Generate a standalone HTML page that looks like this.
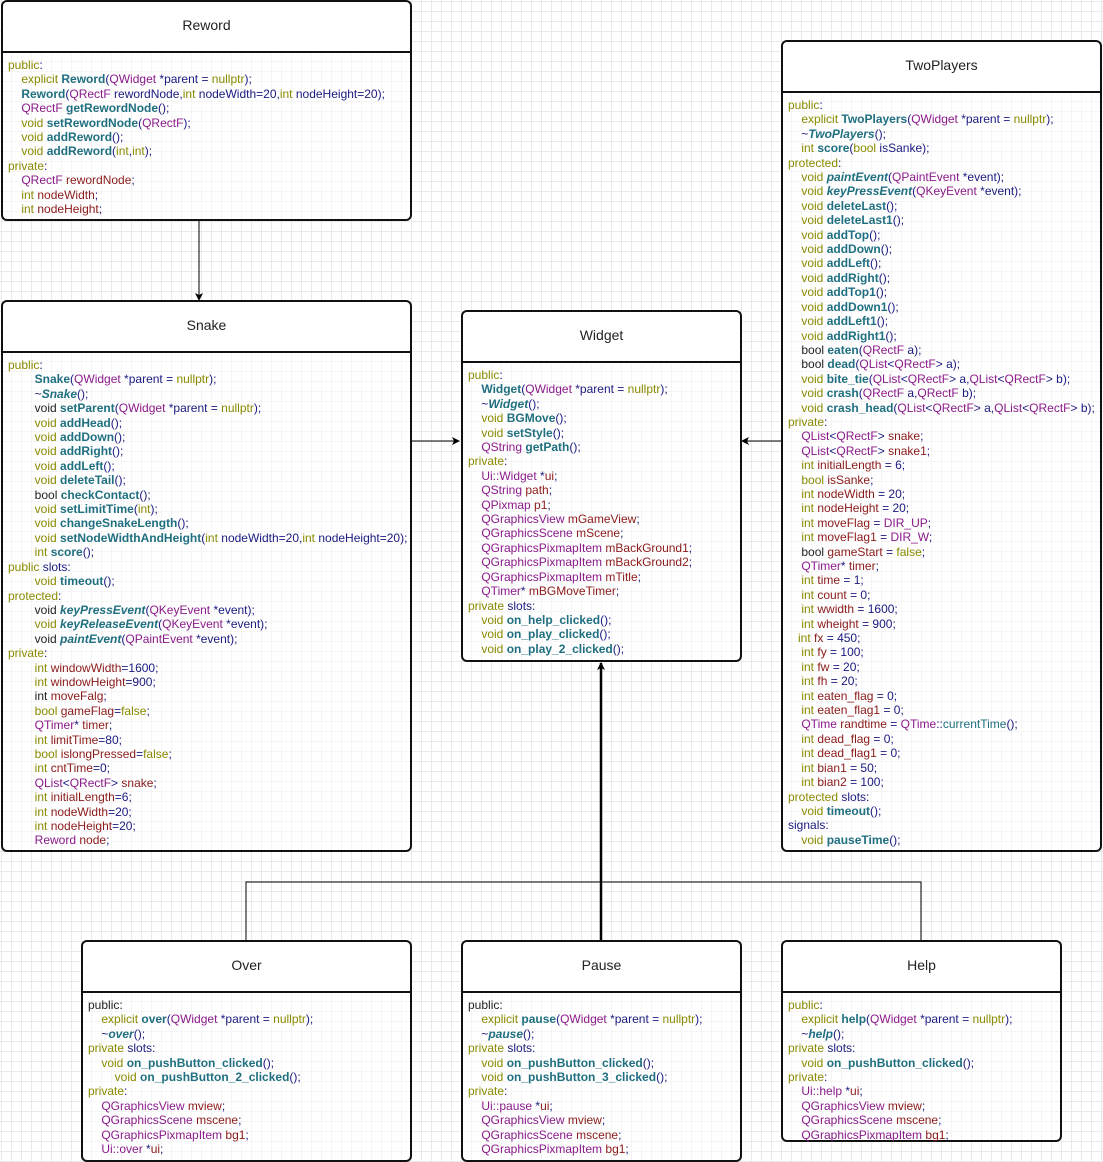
<!DOCTYPE html>
<html><head><meta charset="utf-8"><style>
body{margin:0;width:1103px;height:1162px;position:relative;overflow:hidden;background-color:#fff;
background-image:linear-gradient(#e9e9e9 1px,transparent 1px),linear-gradient(90deg,#e9e9e9 1px,transparent 1px);
background-size:10px 10px;background-position:1px 1px;font-family:"Liberation Sans",Arial,sans-serif;}
.box{position:absolute;border:2px solid #111;border-radius:6px;background:rgba(255,255,255,0.55);box-sizing:border-box;}
.hd{height:49px;border-bottom:2px solid #111;text-align:center;line-height:47px;font-size:14px;color:#222;background:#fff;border-radius:5px 5px 0 0;}
.bd{padding:5px 0 0 5px;font-size:12px;line-height:14.4px;white-space:pre;color:#1a1a80;}
.k{color:#8a8a00}.f{color:#1f6f80;font-weight:bold}.i{font-style:italic}.t{color:#8b1a8b}.v{color:#8b1a1a}.n{color:#1a1a80}.b{color:#222}
svg{position:absolute;left:0;top:0}
</style></head><body>
<svg width="1103" height="1162">
<defs><marker id="a" markerWidth="8" markerHeight="8" refX="7" refY="4" orient="auto" markerUnits="userSpaceOnUse"><path d="M0,0 L8,4 L0,8 L2,4z" fill="#000"/></marker></defs>
<line x1="199" y1="220" x2="199" y2="300" stroke="#000" marker-end="url(#a)"/>
<line x1="411" y1="441" x2="459" y2="441" stroke="#000" marker-end="url(#a)"/>
<line x1="781" y1="441" x2="742" y2="441" stroke="#000" marker-end="url(#a)"/>
<polyline points="246,941 246,882 921,882 921,941" fill="none" stroke="#000"/>
<line x1="601" y1="941" x2="601" y2="663" stroke="#000" stroke-width="2.5" marker-end="url(#a)"/>
</svg>

<div class="box" style="left:1px;top:0px;width:411px;height:221px"><div class="hd">Reword</div><div class="bd"><span class="k">public</span>:
    <span class="k">explicit</span> <span class="f">Reword</span>(<span class="t">QWidget</span> *parent = <span class="k">nullptr</span>);
    <span class="f">Reword</span>(<span class="t">QRectF</span> rewordNode,<span class="k">int</span> nodeWidth=20,<span class="k">int</span> nodeHeight=20);
    <span class="t">QRectF</span> <span class="f">getRewordNode</span>();
    <span class="k">void</span> <span class="f">setRewordNode</span>(<span class="t">QRectF</span>);
    <span class="k">void</span> <span class="f">addReword</span>();
    <span class="k">void</span> <span class="f">addReword</span>(<span class="k">int</span>,<span class="k">int</span>);
<span class="k">private</span>:
    <span class="t">QRectF</span> <span class="v">rewordNode</span>;
    <span class="k">int</span> <span class="v">nodeWidth</span>;
    <span class="k">int</span> <span class="v">nodeHeight</span>;</div></div>

<div class="box" style="left:1px;top:300px;width:411px;height:552px"><div class="hd">Snake</div><div class="bd"><span class="k">public</span>:
        <span class="f">Snake</span>(<span class="t">QWidget</span> *parent = <span class="k">nullptr</span>);
        ~<span class="f i">Snake</span>();
        <span class="b">void</span> <span class="f">setParent</span>(<span class="t">QWidget</span> *parent = <span class="k">nullptr</span>);
        <span class="k">void</span> <span class="f">addHead</span>();
        <span class="k">void</span> <span class="f">addDown</span>();
        <span class="k">void</span> <span class="f">addRight</span>();
        <span class="k">void</span> <span class="f">addLeft</span>();
        <span class="k">void</span> <span class="f">deleteTail</span>();
        <span class="b">bool</span> <span class="f">checkContact</span>();
        <span class="k">void</span> <span class="f">setLimitTime</span>(<span class="k">int</span>);
        <span class="k">void</span> <span class="f">changeSnakeLength</span>();
        <span class="k">void</span> <span class="f">setNodeWidthAndHeight</span>(<span class="k">int</span> nodeWidth=20,<span class="k">int</span> nodeHeight=20);
        <span class="k">int</span> <span class="f">score</span>();
<span class="k">public</span> slots:
        <span class="k">void</span> <span class="f">timeout</span>();
<span class="k">protected</span>:
        <span class="b">void</span> <span class="f i">keyPressEvent</span>(<span class="t">QKeyEvent</span> *event);
        <span class="k">void</span> <span class="f i">keyReleaseEvent</span>(<span class="t">QKeyEvent</span> *event);
        <span class="b">void</span> <span class="f i">paintEvent</span>(<span class="t">QPaintEvent</span> *event);
<span class="k">private</span>:
        <span class="k">int</span> <span class="v">windowWidth</span>=1600;
        <span class="k">int</span> <span class="v">windowHeight</span>=900;
        <span class="b">int</span> <span class="v">moveFalg</span>;
        <span class="k">bool</span> <span class="v">gameFlag</span>=<span class="k">false</span>;
        <span class="t">QTimer</span>* <span class="v">timer</span>;
        <span class="k">int</span> <span class="v">limitTime</span>=80;
        <span class="k">bool</span> <span class="v">islongPressed</span>=<span class="k">false</span>;
        <span class="k">int</span> <span class="v">cntTime</span>=0;
        <span class="t">QList</span>&lt;<span class="t">QRectF</span>&gt; <span class="v">snake</span>;
        <span class="k">int</span> <span class="v">initialLength</span>=6;
        <span class="k">int</span> <span class="v">nodeWidth</span>=20;
        <span class="k">int</span> <span class="v">nodeHeight</span>=20;
        <span class="t">Reword</span> <span class="v">node</span>;</div></div>

<div class="box" style="left:461px;top:310px;width:281px;height:352px"><div class="hd">Widget</div><div class="bd"><span class="k">public</span>:
    <span class="f">Widget</span>(<span class="t">QWidget</span> *parent = <span class="k">nullptr</span>);
    ~<span class="f i">Widget</span>();
    <span class="k">void</span> <span class="f">BGMove</span>();
    <span class="k">void</span> <span class="f">setStyle</span>();
    <span class="t">QString</span> <span class="f">getPath</span>();
<span class="k">private</span>:
    <span class="t">Ui::Widget</span> *<span class="v">ui</span>;
    <span class="t">QString</span> <span class="v">path</span>;
    <span class="t">QPixmap</span> <span class="v">p1</span>;
    <span class="t">QGraphicsView</span> <span class="v">mGameView</span>;
    <span class="t">QGraphicsScene</span> <span class="v">mScene</span>;
    <span class="t">QGraphicsPixmapItem</span> <span class="v">mBackGround1</span>;
    <span class="t">QGraphicsPixmapItem</span> <span class="v">mBackGround2</span>;
    <span class="t">QGraphicsPixmapItem</span> <span class="v">mTitle</span>;
    <span class="t">QTimer</span>* <span class="v">mBGMoveTimer</span>;
<span class="k">private</span> slots:
    <span class="k">void</span> <span class="f">on_help_clicked</span>();
    <span class="k">void</span> <span class="f">on_play_clicked</span>();
    <span class="k">void</span> <span class="f">on_play_2_clicked</span>();</div></div>

<div class="box" style="left:781px;top:40px;width:321px;height:812px"><div class="hd">TwoPlayers</div><div class="bd"><span class="k">public</span>:
    <span class="k">explicit</span> <span class="f">TwoPlayers</span>(<span class="t">QWidget</span> *parent = <span class="k">nullptr</span>);
    ~<span class="f i">TwoPlayers</span>();
    <span class="k">int</span> <span class="f">score</span>(<span class="k">bool</span> isSanke);
<span class="k">protected</span>:
    <span class="k">void</span> <span class="f i">paintEvent</span>(<span class="t">QPaintEvent</span> *event);
    <span class="k">void</span> <span class="f i">keyPressEvent</span>(<span class="t">QKeyEvent</span> *event);
    <span class="k">void</span> <span class="f">deleteLast</span>();
    <span class="k">void</span> <span class="f">deleteLast1</span>();
    <span class="k">void</span> <span class="f">addTop</span>();
    <span class="k">void</span> <span class="f">addDown</span>();
    <span class="k">void</span> <span class="f">addLeft</span>();
    <span class="k">void</span> <span class="f">addRight</span>();
    <span class="k">void</span> <span class="f">addTop1</span>();
    <span class="k">void</span> <span class="f">addDown1</span>();
    <span class="k">void</span> <span class="f">addLeft1</span>();
    <span class="k">void</span> <span class="f">addRight1</span>();
    <span class="b">bool</span> <span class="f">eaten</span>(<span class="t">QRectF</span> a);
    <span class="b">bool</span> <span class="f">dead</span>(<span class="t">QList</span>&lt;<span class="t">QRectF</span>&gt; a);
    <span class="k">void</span> <span class="f">bite_tie</span>(<span class="t">QList</span>&lt;<span class="t">QRectF</span>&gt; a,<span class="t">QList</span>&lt;<span class="t">QRectF</span>&gt; b);
    <span class="k">void</span> <span class="f">crash</span>(<span class="t">QRectF</span> a,<span class="t">QRectF</span> b);
    <span class="k">void</span> <span class="f">crash_head</span>(<span class="t">QList</span>&lt;<span class="t">QRectF</span>&gt; a,<span class="t">QList</span>&lt;<span class="t">QRectF</span>&gt; b);
<span class="k">private</span>:
    <span class="t">QList</span>&lt;<span class="t">QRectF</span>&gt; <span class="v">snake</span>;
    <span class="t">QList</span>&lt;<span class="t">QRectF</span>&gt; <span class="v">snake1</span>;
    <span class="k">int</span> <span class="v">initialLength</span> = 6;
    <span class="k">bool</span> <span class="v">isSanke</span>;
    <span class="k">int</span> <span class="v">nodeWidth</span> = 20;
    <span class="k">int</span> <span class="v">nodeHeight</span> = 20;
    <span class="k">int</span> <span class="v">moveFlag</span> = <span class="t">DIR_UP</span>;
    <span class="k">int</span> <span class="v">moveFlag1</span> = <span class="t">DIR_W</span>;
    <span class="b">bool</span> <span class="v">gameStart</span> = <span class="k">false</span>;
    <span class="t">QTimer</span>* <span class="v">timer</span>;
    <span class="k">int</span> <span class="v">time</span> = 1;
    <span class="k">int</span> <span class="v">count</span> = 0;
    <span class="k">int</span> <span class="v">wwidth</span> = 1600;
    <span class="k">int</span> <span class="v">wheight</span> = 900;
   <span class="k">int</span> <span class="v">fx</span> = 450;
    <span class="k">int</span> <span class="v">fy</span> = 100;
    <span class="k">int</span> <span class="v">fw</span> = 20;
    <span class="k">int</span> <span class="v">fh</span> = 20;
    <span class="k">int</span> <span class="v">eaten_flag</span> = 0;
    <span class="k">int</span> <span class="v">eaten_flag1</span> = 0;
    <span class="t">QTime</span> <span class="v">randtime</span> = <span class="t">QTime</span>::<span class="f" style="font-weight:normal">currentTime</span>();
    <span class="k">int</span> <span class="v">dead_flag</span> = 0;
    <span class="k">int</span> <span class="v">dead_flag1</span> = 0;
    <span class="k">int</span> <span class="v">bian1</span> = 50;
    <span class="k">int</span> <span class="v">bian2</span> = 100;
<span class="k">protected</span> slots:
    <span class="k">void</span> <span class="f">timeout</span>();
signals:
    <span class="k">void</span> <span class="f">pauseTime</span>();</div></div>

<div class="box" style="left:81px;top:940px;width:331px;height:222px"><div class="hd">Over</div><div class="bd"><span class="b">public:</span>
    <span class="k">explicit</span> <span class="f">over</span>(<span class="t">QWidget</span> *parent = <span class="k">nullptr</span>);
    ~<span class="f i">over</span>();
<span class="k">private</span> slots:
    <span class="k">void</span> <span class="f">on_pushButton_clicked</span>();
        <span class="k">void</span> <span class="f">on_pushButton_2_clicked</span>();
<span class="k">private</span>:
    <span class="t">QGraphicsView</span> <span class="v">mview</span>;
    <span class="t">QGraphicsScene</span> <span class="v">mscene</span>;
    <span class="t">QGraphicsPixmapItem</span> <span class="v">bg1</span>;
    <span class="t">Ui::over</span> *<span class="v">ui</span>;</div></div>

<div class="box" style="left:461px;top:940px;width:281px;height:222px"><div class="hd">Pause</div><div class="bd"><span class="b">public:</span>
    <span class="k">explicit</span> <span class="f">pause</span>(<span class="t">QWidget</span> *parent = <span class="k">nullptr</span>);
    ~<span class="f i">pause</span>();
<span class="k">private</span> slots:
    <span class="k">void</span> <span class="f">on_pushButton_clicked</span>();
    <span class="k">void</span> <span class="f">on_pushButton_3_clicked</span>();
<span class="k">private</span>:
    <span class="t">Ui::pause</span> *<span class="v">ui</span>;
    <span class="t">QGraphicsView</span> <span class="v">mview</span>;
    <span class="t">QGraphicsScene</span> <span class="v">mscene</span>;
    <span class="t">QGraphicsPixmapItem</span> <span class="v">bg1</span>;</div></div>

<div class="box" style="left:781px;top:940px;width:281px;height:202px"><div class="hd">Help</div><div class="bd"><span class="k">public</span>:
    <span class="k">explicit</span> <span class="f">help</span>(<span class="t">QWidget</span> *parent = <span class="k">nullptr</span>);
    ~<span class="f i">help</span>();
<span class="k">private</span> slots:
    <span class="k">void</span> <span class="f">on_pushButton_clicked</span>();
<span class="k">private</span>:
    <span class="t">Ui::help</span> *<span class="v">ui</span>;
    <span class="t">QGraphicsView</span> <span class="v">mview</span>;
    <span class="t">QGraphicsScene</span> <span class="v">mscene</span>;
    <span class="t">QGraphicsPixmapItem</span> <span class="v">bg1</span>;</div></div>
</body></html>
